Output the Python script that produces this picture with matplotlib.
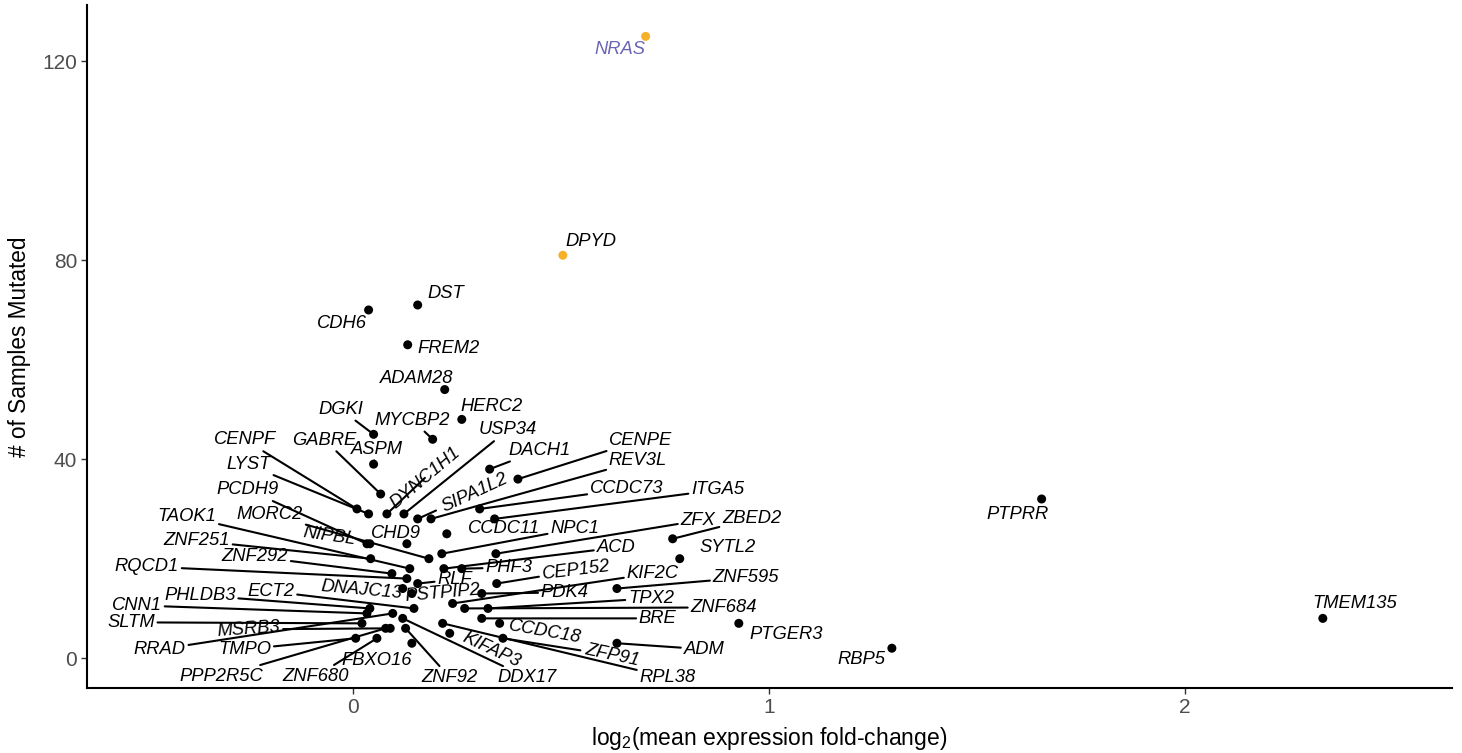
import matplotlib.pyplot as plt

plt.rcParams['font.family'] = ['Liberation Sans', 'DejaVu Sans']
plt.rcParams['mathtext.default'] = 'regular'

# Mutation counts vs. expression change per gene
genes = ["NRAS", "DPYD", "DST", "CDH6", "FREM2", "ADAM28", "HERC2", "MYCBP2",
         "DGKI", "ASPM", "GABRE", "USP34", "DACH1", "CENPE", "REV3L", "CCDC73",
         "ITGA5", "DYNC1H1", "SIPA1L2", "CENPF", "LYST", "PCDH9", "MORC2",
         "TAOK1", "CHD9", "CCDC11", "NPC1", "ZFX", "ZBED2", "ACD", "SYTL2",
         "NIPBL", "ZNF251", "ZNF292", "RQCD1", "PHF3", "CEP152", "KIF2C",
         "ZNF595", "RLF", "DNAJC13", "PSTPIP2", "PDK4", "TPX2", "ZNF684", "BRE",
         "ECT2", "PHLDB3", "CNN1", "SLTM", "MSRB3", "RRAD", "TMPO", "PPP2R5C",
         "ZNF680", "FBXO16", "ZNF92", "DDX17", "KIFAP3", "CCDC18", "ZFP91",
         "RPL38", "ADM", "PTGER3", "RBP5", "PTPRR", "TMEM135"]
log2fc = [0.704, 0.505, 0.156, 0.038, 0.132, 0.221, 0.262, 0.192,
          0.050, 0.050, 0.067, 0.123, 0.329, 0.397, 0.188, 0.305,
          0.341, 0.082, 0.156, 0.010, 0.038, 0.034, 0.183,
          0.137, 0.130, 0.226, 0.214, 0.344, 0.769, 0.219, 0.786,
          0.041, 0.043, 0.094, 0.130, 0.262, 0.346, 0.240,
          0.635, 0.156, 0.120, 0.142, 0.310, 0.325, 0.269, 0.310,
          0.147, 0.041, 0.034, 0.022, 0.090, 0.096, 0.007, 0.079,
          0.058, 0.142, 0.127, 0.120, 0.233, 0.353, 0.361,
          0.216, 0.635, 0.928, 1.296, 1.656, 2.332]
n_mutated = [125, 81, 71, 70, 63, 54, 48, 44,
             45, 39, 33, 29, 38, 36, 28, 30,
             28, 29, 28, 30, 29, 23, 20,
             18, 23, 25, 21, 21, 24, 18, 20,
             23, 20, 17, 16, 18, 15, 11,
             14, 15, 14, 13, 13, 10, 10, 8,
             10, 10, 9, 7, 6, 9, 4, 6,
             4, 3, 6, 8, 5, 7, 4,
             7, 3, 7, 2, 32, 8]
highlight = ["NRAS", "DPYD"]

# label placement (pixel offsets from each point), tilt and leader lines
label_offset = {
    "NRAS": (-26, -13), "DPYD": (28, 14), "DST": (28, 11), "CDH6": (-27, -14),
    "FREM2": (41, -4), "ADAM28": (-28, 11), "HERC2": (30, 13),
    "MYCBP2": (-20, 19), "DGKI": (-33, 25), "ASPM": (3, 15),
    "GABRE": (-56, 54), "USP34": (104, 84), "DACH1": (50, 19),
    "CENPE": (123, 39), "REV3L": (207, 58), "CCDC73": (147, 20),
    "ITGA5": (223, 29), "DYNC1H1": (38, 36), "SIPA1L2": (57, 26),
    "CENPF": (-112, 69), "LYST": (-120, 49), "PCDH9": (-119, 54),
    "MORC2": (-159, 44), "TAOK1": (-223, 52), "CHD9": (-11, 10),
    "CCDC11": (57, 5), "NPC1": (133, 25), "ZFX": (202, 33),
    "ZBED2": (79, 20), "ACD": (172, 21), "SYTL2": (48, 11),
    "NIPBL": (-40, 8), "ZNF251": (-174, 18), "ZNF292": (-137, 17),
    "RQCD1": (-260, 12), "PHF3": (47, 1), "CEP152": (80, 13),
    "KIF2C": (200, 30), "ZNF595": (129, 11), "RLF": (37, 4),
    "DNAJC13": (-41, -2), "PSTPIP2": (31, 0), "PDK4": (83, 1),
    "TPX2": (163, 10), "ZNF684": (259, 1), "BRE": (176, 0),
    "ECT2": (-143, 17), "PHLDB3": (-170, 13), "CNN1": (-230, 8),
    "SLTM": (-231, 1), "MSRB3": (-142, -1), "RRAD": (-233, -36),
    "TMPO": (-111, -11), "PPP2R5C": (-164, -48), "ZNF680": (-61, -38),
    "FBXO16": (-35, -17), "ZNF92": (44, -49), "DDX17": (124, -59),
    "KIFAP3": (42, -17), "CCDC18": (45, -9), "ZFP91": (109, -17),
    "RPL38": (225, -54), "ADM": (87, -6), "PTGER3": (47, -11),
    "RBP5": (-30, -11), "PTPRR": (-24, -16), "TMEM135": (32, 15),
}
label_angle = {"DYNC1H1": 40, "SIPA1L2": 25, "NIPBL": -8, "CEP152": 7,
               "DNAJC13": -5, "PSTPIP2": 5, "MSRB3": 4, "KIFAP3": -25,
               "CCDC18": -10, "ZFP91": -12}
no_segment = {"NRAS", "DPYD", "DST", "CDH6", "FREM2", "ADAM28", "HERC2",
              "CHD9", "CCDC11", "SYTL2", "NIPBL", "DNAJC13", "PSTPIP2",
              "FBXO16", "KIFAP3", "CCDC18", "PTGER3", "RBP5", "PTPRR",
              "TMEM135"}

fig = plt.figure(figsize=(14.62, 7.53), dpi=100)
ax = fig.add_axes([0.0595, 0.0863, 0.9335, 0.907])

colors = ["#F6B12A" if g in highlight else "black" for g in genes]
ax.scatter(log2fc, n_mutated, s=42, c=colors, linewidths=0, zorder=3)

for g, x, y in zip(genes, log2fc, n_mutated):
    arrow = None
    if g not in no_segment:
        arrow = dict(arrowstyle="-", color="black", lw=1.5,
                     shrinkA=0, shrinkB=2)
    ax.annotate(g, (x, y), xytext=label_offset[g], textcoords="offset pixels",
                ha="center", va="center", rotation=label_angle.get(g, 0),
                rotation_mode="anchor", fontsize=13.2, style="italic",
                color="#6A66B3" if g == "NRAS" else "black",
                arrowprops=arrow, zorder=2)

ax.set_xlim(-0.639, 2.642)
ax.set_ylim(-6.0, 131.3)
ax.set_xticks([0, 1, 2])
ax.set_yticks([0, 40, 80, 120])
ax.tick_params(labelsize=15, colors="#4d4d4d", length=4, width=1, pad=3)
ax.tick_params(axis="both", color="#333333")
for side in ["top", "right"]:
    ax.spines[side].set_visible(False)
for side in ["left", "bottom"]:
    ax.spines[side].set_linewidth(1.5)
ax.set_xlabel("log$_2$(mean expression fold-change)", fontsize=16.5, labelpad=6)
ax.set_ylabel("# of Samples Mutated", fontsize=16.3, labelpad=8)

fig.savefig("out.png", dpi=100)
